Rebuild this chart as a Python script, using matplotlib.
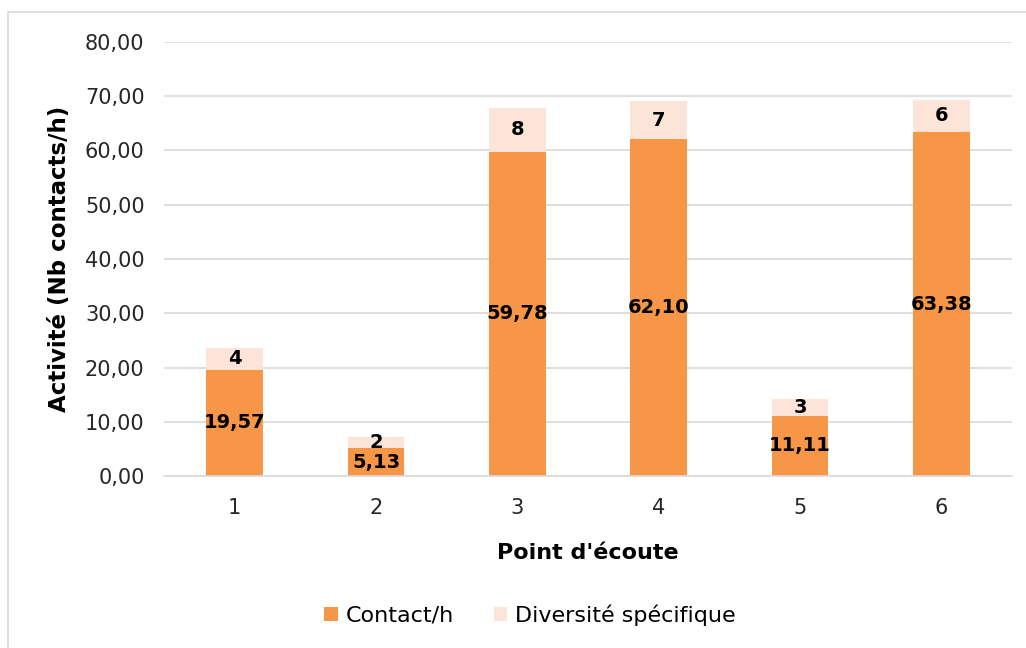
import matplotlib.pyplot as plt
from matplotlib.patches import Rectangle

points = ["1", "2", "3", "4", "5", "6"]
contacts = [19.57, 5.13, 59.78, 62.10, 11.11, 63.38]
diversite = [4, 2, 8, 7, 3, 6]
yticks = [0, 10, 20, 30, 40, 50, 60, 70, 80]

plt.rcParams['font.family'] = ['DejaVu Sans']

W, H = 1026, 648
fig = plt.figure(figsize=(W / 100, H / 100), dpi=100)

# chart area frame
fig.patches.append(Rectangle((8 / W, -0.01), 1.1, 1 - 12 / H + 0.01,
                             transform=fig.transFigure, fill=False,
                             edgecolor='#D9D9D9', linewidth=1.2, zorder=0))

ax = fig.add_axes([164 / W, 1 - 476 / H, (1012 - 164) / W, (476 - 42) / H])

x = range(len(points))
c1 = '#F79646'
c2 = '#FDE4D8'
ax.bar(x, contacts, width=0.4, color=c1, label='Contact/h', zorder=2)
ax.bar(x, diversite, width=0.4, bottom=contacts, color=c2,
       label='Diversité spécifique', zorder=2)

for i, (c, d) in enumerate(zip(contacts, diversite)):
    ax.text(i, c / 2, f"{c:.2f}".replace('.', ','), ha='center', va='center',
            fontsize=14, fontweight='bold', color='black', zorder=3)
    ax.text(i, c + d / 2, str(d), ha='center', va='center',
            fontsize=14, fontweight='bold', color='black', zorder=3)

ax.set_xlim(-0.5, len(points) - 0.5)
ax.set_ylim(0, 80)
ax.set_yticks(yticks)
ax.set_yticklabels([f"{v:.2f}".replace('.', ',') for v in yticks])
ax.set_xticks(list(x))
ax.set_xticklabels(points)
ax.grid(axis='y', color='#D9D9D9', linewidth=1.2, zorder=0)
ax.set_axisbelow(True)
for s in ['top', 'right', 'left']:
    ax.spines[s].set_visible(False)
ax.spines['bottom'].set_color('#D9D9D9')
ax.spines['bottom'].set_linewidth(1.2)
ax.tick_params(axis='both', length=0, labelsize=15, colors='#262626')
ax.tick_params(axis='y', pad=14)
ax.tick_params(axis='x', pad=16)

ax.set_xlabel("Point d'écoute", fontsize=16, fontweight='bold', labelpad=18)
ax.set_ylabel("Activité (Nb contacts/h)", fontsize=16.5, fontweight='bold', labelpad=10)

fig.legend(loc='center', bbox_to_anchor=(530 / W, 1 - 615 / H), ncol=2,
           frameon=False, fontsize=16, handlelength=0.6, handleheight=0.6,
           columnspacing=1.8, handletextpad=0.35)

fig.savefig('out.png', dpi=100)
